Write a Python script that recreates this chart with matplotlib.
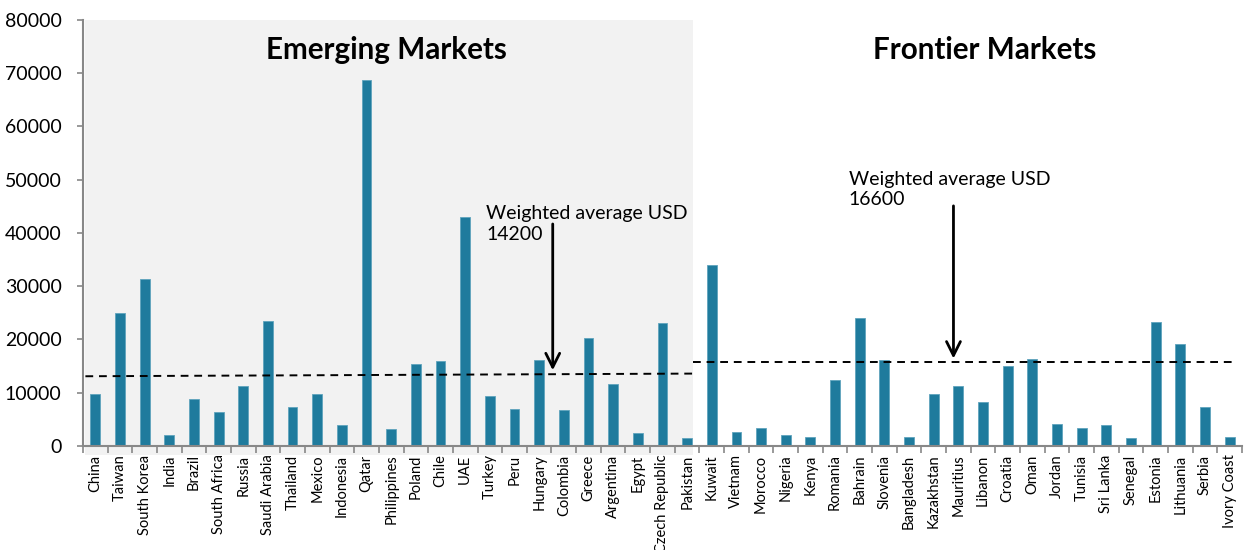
import matplotlib
matplotlib.use("Agg")
import matplotlib.pyplot as plt
from matplotlib.patches import Rectangle

plt.rcParams["font.family"] = ["Lato", "DejaVu Sans"]

EMERGING = ["China", "Taiwan", "South Korea", "India", "Brazil", "South Africa", "Russia",
            "Saudi Arabia", "Thailand", "Mexico", "Indonesia", "Qatar", "Philippines", "Poland",
            "Chile", "UAE", "Turkey", "Peru", "Hungary", "Colombia", "Greece", "Argentina",
            "Egypt", "Czech Republic", "Pakistan"]
EMERGING_VALS = [9800, 24900, 31350, 2000, 8900, 6400, 11350, 23430, 7330, 9700, 3900, 68780,
                 3170, 15380, 15970, 42970, 9440, 6930, 16240, 6730, 20330, 11680, 2500, 23040, 1520]
FRONTIER = ["Kuwait", "Vietnam", "Morocco", "Nigeria", "Kenya", "Romania", "Bahrain", "Slovenia",
            "Bangladesh", "Kazakhstan", "Mauritius", "Libanon", "Croatia", "Oman", "Jordan",
            "Tunisia", "Sri Lanka", "Senegal", "Estonia", "Lithuania", "Serbia", "Ivory Coast"]
FRONTIER_VALS = [34000, 2570, 3300, 2110, 1780, 12340, 24090, 16170, 1720, 9830, 11290, 8250,
                 14980, 16430, 4220, 3430, 4030, 1520, 23300, 19140, 7260, 1780]

EM_AVG_LINE = [13100, 13600]   # dashed line as drawn (slight slope)
FM_AVG_LINE = [15850, 15850]
EM_LABEL = "Weighted average USD\n14200"
FM_LABEL = "Weighted average USD\n16600"

BAR_COLOR = "#1F7B9D"

labels = EMERGING + FRONTIER
values = EMERGING_VALS + FRONTIER_VALS
x = list(range(len(labels)))
split = len(EMERGING) - 0.75

fig = plt.figure(figsize=(12.51, 5.5), dpi=100)
ax = fig.add_axes([0.0663, 0.189, 0.9265, 0.775])
ax.set_xlim(-0.5, len(labels) - 0.5)
ax.set_ylim(0, 80000)

# grey background behind the emerging block
ax.add_patch(Rectangle((-0.4, -0.02), split + 0.4, 1.02, transform=ax.get_xaxis_transform(),
                       facecolor="#F2F2F2", edgecolor="none", zorder=0, clip_on=False))

ax.bar(x, values, width=0.4, color=BAR_COLOR, edgecolor="#5FA3BD", linewidth=0.6, zorder=2)

ax.plot([-0.4, split], EM_AVG_LINE, ls=(0, (4, 3)), color="black", lw=1.4, zorder=3)
ax.plot([split, len(labels) - 0.7], FM_AVG_LINE, ls=(0, (4, 3)), color="black", lw=1.4, zorder=3)

ax.annotate("", xy=(18.55, 13700), xytext=(18.55, 42200),
            arrowprops=dict(arrowstyle="->,head_length=1.0,head_width=0.5", lw=2, color="black"),
            zorder=4)
ax.annotate("", xy=(34.8, 15900), xytext=(34.8, 45600),
            arrowprops=dict(arrowstyle="->,head_length=1.0,head_width=0.5", lw=2, color="black"),
            zorder=4)
ax.text(15.85, 45200, EM_LABEL, fontsize=14, va="top", ha="left", linespacing=1.25)
ax.text(30.55, 51700, FM_LABEL, fontsize=14, va="top", ha="left", linespacing=1.25)

ax.text(11.8, 74300, "Emerging Markets", fontsize=21.3, fontweight="bold", ha="center", va="center")
ax.text(36.05, 74300, "Frontier Markets", fontsize=21.3, fontweight="bold", ha="center", va="center")

ax.set_xticks(x)
ax.set_xticklabels(labels, rotation=90, fontsize=10.5)
ax.set_xticks([i + 0.5 for i in range(-1, len(labels))], minor=True)
ax.tick_params(axis="x", which="major", length=0, pad=6)
ax.tick_params(axis="x", which="minor", length=5, color="#888888", width=1.2)
ax.set_yticks(range(0, 80001, 10000))
ax.tick_params(axis="y", labelsize=14, length=4.3, color="#888888", width=1.2, pad=11)

for s in ["top", "right"]:
    ax.spines[s].set_visible(False)
for s in ["left", "bottom"]:
    ax.spines[s].set_color("#888888")
    ax.spines[s].set_linewidth(1.5)

fig.savefig("out.png", dpi=100)
